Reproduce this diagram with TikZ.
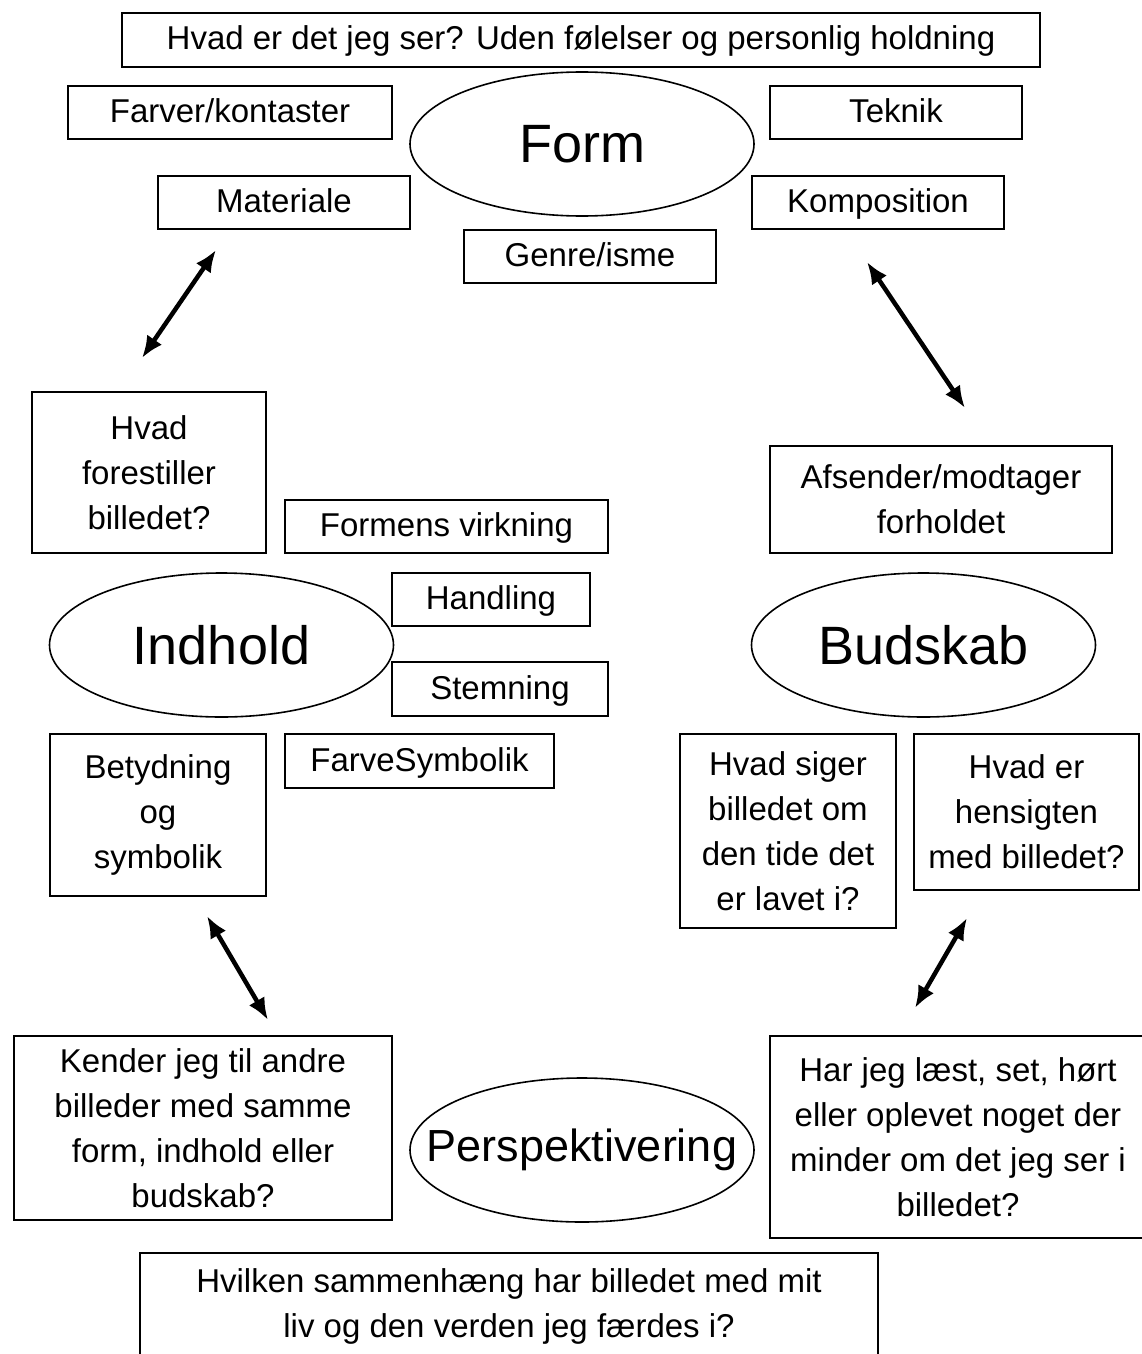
\documentclass[tikz,border=0pt]{standalone}
\usepackage{fontspec}
\setmainfont{Liberation Sans}
\usetikzlibrary{shapes.geometric,arrows.meta}
\begin{document}
\begin{tikzpicture}[x=1pt,y=-1pt,
  box/.style={draw,line width=1.6pt,rectangle,inner sep=0pt,outer sep=0pt,align=center,font=\fontsize{33}{45}\selectfont},
  one/.style={box,text height=24pt,text depth=4pt},
  oval/.style={draw,line width=1.6pt,ellipse,inner sep=0pt,outer sep=0pt,minimum width=344pt,minimum height=144pt},
  ovaltext/.style={font=\fontsize{54}{60}\selectfont,inner sep=0pt},
  dbl/.style={{Latex[length=22pt,width=18pt]}-{Latex[length=22pt,width=18pt]},line width=4.5pt}]
\useasboundingbox (0,0) rectangle (1141,1354);
% top row
\node[one,minimum width=918pt,minimum height=54pt] (top) at (581,40) {Hvad er det jeg ser? Uden følelser og personlig holdning};
\node[one,minimum width=324pt,minimum height=53pt] (farver) at (230,112.5) {Farver/kontaster};
\node[oval] (form) at (582,144) {};
\node[ovaltext] (formt) at (form.center) {Form};
\node[one,minimum width=252pt,minimum height=53pt] (teknik) at (896,112.5) {Teknik};
\node[one,minimum width=252pt,minimum height=53pt] (materiale) at (284,202.5) {Materiale};
\node[one,minimum width=252pt,minimum height=53pt] (komposition) at (878,202.5) {Komposition};
\node[one,minimum width=252pt,minimum height=53pt] (genre) at (590,256.5) {Genre/isme};
% middle
\node[box,minimum width=234pt,minimum height=161pt] (forestiller) at (149,472.5) {Hvad\\forestiller\\billedet?};
\node[box,minimum width=342pt,minimum height=107pt] (afsender) at (941,499.5) {Afsender/modtager\\forholdet};
\node[one,minimum width=323pt,minimum height=53pt] (virkning) at (446.5,526.5) {Formens virkning};
\node[one,minimum width=198pt,minimum height=53pt] (handling) at (491,599.5) {Handling};
\node[oval] (indhold) at (221.5,645) {};
\node[ovaltext] (indholdt) at (indhold.center) {Indhold};
\node[oval] (budskab) at (923.5,645) {};
\node[ovaltext] (budskabt) at (budskab.center) {Budskab};
\node[one,minimum width=216pt,minimum height=54pt] (stemning) at (500,689) {Stemning};
\node[box,minimum width=216pt,minimum height=162pt] (betydning) at (158,815) {Betydning\\og\\symbolik};
\node[one,minimum width=269pt,minimum height=54pt] (farvesym) at (419.5,761) {FarveSymbolik};
\node[box,minimum width=216pt,minimum height=194pt] (tide) at (788,831) {Hvad siger\\billedet om\\den tide det\\er lavet i?};
\node[box,minimum width=225pt,minimum height=156pt] (hensigt) at (1026.5,812) {Hvad er\\hensigten\\med billedet?};
% bottom
\node[box,minimum width=378pt,minimum height=184pt] (kender) at (203,1128) {Kender jeg til andre\\billeder med samme\\form, indhold eller\\budskab?};
\node[oval] (persp) at (582,1150) {};
\node[ovaltext,font=\fontsize{45}{50}\selectfont] (perspt) at (persp.center) {Perspektivering};
\node[box,minimum width=376pt,minimum height=202pt] (harjeg) at (958,1137) {Har jeg læst, set, hørt\\eller oplevet noget der\\minder om det jeg ser i\\billedet?};
\node[box,minimum width=738pt,minimum height=106pt] (sammen) at (509,1306) {Hvilken sammenhæng har billedet med mit\\liv og den verden jeg færdes i?};
% arrows
\coordinate (a1s) at (216,250);
\coordinate (a1e) at (142,358);
\coordinate (a2s) at (867,262);
\coordinate (a2e) at (965,408);
\coordinate (a3s) at (207,916);
\coordinate (a3e) at (268,1020);
\coordinate (a4s) at (967,918);
\coordinate (a4e) at (915,1008);
\draw[dbl] (a1s) -- (a1e);
\draw[dbl] (a2s) -- (a2e);
\draw[dbl] (a3s) -- (a3e);
\draw[dbl] (a4s) -- (a4e);
\end{tikzpicture}
\end{document}
